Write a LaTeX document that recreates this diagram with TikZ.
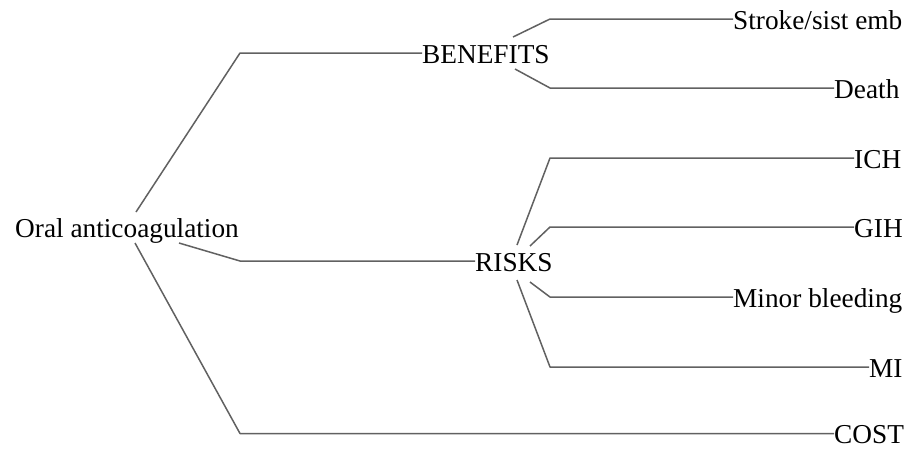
\documentclass[tikz,border=0pt]{standalone}
\usepackage{fontspec}
\setmainfont{Liberation Serif}
\begin{document}
\begin{tikzpicture}[x=1pt,y=-1pt,
  lbl/.style={inner sep=0pt, anchor=west, text height=18pt, text depth=0pt, font=\fontsize{27.3}{32}\selectfont},
  conn/.style={draw=black!62, line width=1.5pt, line join=round}]
\useasboundingbox[fill=white] (0,0) rectangle (912,448);
% nodes
\node[lbl] (root) at (15,228) {Oral anticoagulation};
\node[lbl] (benefits) at (422,54) {BENEFITS};
\node[lbl] (risks) at (475,262) {RISKS};
\node[lbl] (stroke) at (733,20) {Stroke/sist emb};
\node[lbl] (death) at (834,89) {Death};
\node[lbl] (ich) at (854,159) {ICH};
\node[lbl] (gih) at (854,228) {GIH};
\node[lbl] (minor) at (733,298) {Minor bleeding};
\node[lbl] (mi) at (869,368) {MI};
\node[lbl] (cost) at (834,434) {COST};
% connector start and elbow points
\coordinate (r1) at (136,212); \coordinate (e1) at (240,53);
\coordinate (r2) at (179,243); \coordinate (e2) at (240,261);
\coordinate (r3) at (135,243); \coordinate (e3) at (240,433.5);
\coordinate (b1) at (513,37);  \coordinate (f1) at (550,19);
\coordinate (b2) at (515,69);  \coordinate (f2) at (550,88);
\coordinate (k1) at (517,245); \coordinate (g1) at (550,158);
\coordinate (k2) at (530,246); \coordinate (g2) at (550,227);
\coordinate (k3) at (530,282); \coordinate (g3) at (550,297);
\coordinate (k4) at (517,280); \coordinate (g4) at (550,367);
% connectors
\draw[conn] (r1) -- (e1) -- (e1 -| benefits.west);
\draw[conn] (r2) -- (e2) -- (e2 -| risks.west);
\draw[conn] (r3) -- (e3) -- (e3 -| cost.west);
\draw[conn] (b1) -- (f1) -- (f1 -| stroke.west);
\draw[conn] (b2) -- (f2) -- (f2 -| death.west);
\draw[conn] (k1) -- (g1) -- (g1 -| ich.west);
\draw[conn] (k2) -- (g2) -- (g2 -| gih.west);
\draw[conn] (k3) -- (g3) -- (g3 -| minor.west);
\draw[conn] (k4) -- (g4) -- (g4 -| mi.west);
\end{tikzpicture}
\end{document}
